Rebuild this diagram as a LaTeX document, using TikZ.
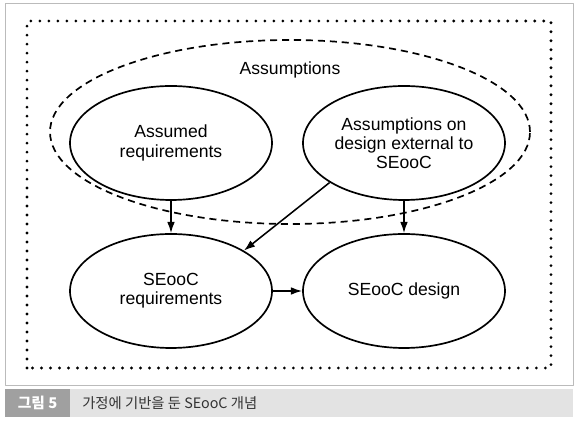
\documentclass[tikz,border=0pt]{standalone}
\usepackage{fontspec}
\setmainfont{Liberation Sans}
\newfontfamily\krfont{Noto Sans CJK KR}
\usetikzlibrary{shapes.geometric,arrows.meta}
\definecolor{capdark}{HTML}{A0A0A0}
\definecolor{caplight}{HTML}{E3E3E3}
\definecolor{captext}{HTML}{333333}
\definecolor{framegray}{HTML}{BBBBBB}
\tikzset{
  oval/.style={draw,ellipse,line width=1.2pt,minimum width=5.05cm,minimum height=2.85cm,
    inner sep=0pt,align=center,font=\fontsize{12.5}{13.6}\selectfont},
  link/.style={->,line width=1.1pt},
}
\begin{document}
\begin{tikzpicture}[line join=round,>={Latex[length=8pt,width=5.5pt]}]
				\useasboundingbox (0,0) rectangle (14.45,10.6);
				% frame and caption
				\draw[framegray,line width=0.6pt] (0.125,0.975) rectangle (14.325,10.525);
				\fill[capdark] (0.125,0.175) rectangle (1.75,0.875);
				\fill[caplight] (1.75,0.175) rectangle (14.325,0.875);
				\path (0.94,0.525) node[white,font=\krfont\bfseries\fontsize{10.5}{11}\selectfont] {그림 5};
				\path (2.05,0.525) node[right,inner sep=0pt,captext,font=\krfont\fontsize{10.2}{11}\selectfont] {가정에 기반을 둔 SEooC 개념};
				
				\draw[line width=2.2pt,line cap=round,dash pattern=on 0pt off 6.4pt] (0.675,1.4) rectangle (13.775,10.075);
				\draw[line width=1.2pt,dash pattern=on 5pt off 3.5pt] (7.25,7.3) ellipse (6 and 2.3);
				\path (7.25,8.85) node[font=\fontsize{12.5}{13.6}\selectfont] {Assumptions};
				
				\node[oval] (AR) at (4.275,7.025) {Assumed\\requirements};
				\node[oval] (AD) at (10.1,7.025) {Assumptions on\\design external to\\SEooC};
				\node[oval] (SR) at (4.275,3.325) {SEooC\\requirements};
				\node[oval] (SD) at (10.1,3.325) {SEooC design};
				
				\draw[link] (AR) -- (SR);
				\draw[link] (AD) -- (SD);
				\draw[link] (AD.208) -- (SR.29);
				\draw[link] (SR) -- (SD);
			\end{tikzpicture}
\end{document}
